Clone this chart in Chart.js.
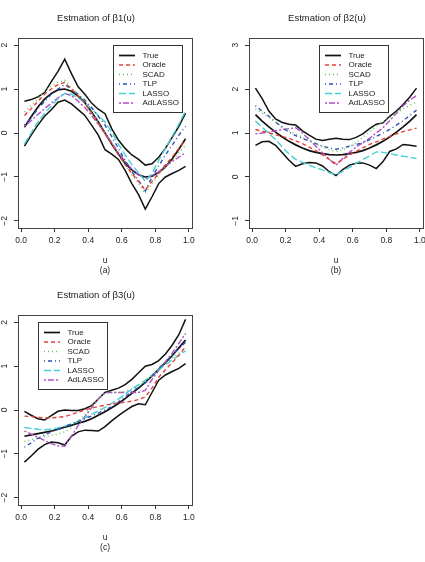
<!DOCTYPE html>
<html>
<head>
<meta charset="utf-8">
<script src="https://cdn.jsdelivr.net/npm/chart.js@4.4.1/dist/chart.umd.min.js"></script>
<style>
  html, body { margin: 0; padding: 0; background: #fff; overflow: hidden; }
  body { width: 425px; height: 562px; position: relative; }
  canvas { position: absolute; }
</style>
</head>
<body>
<canvas id="chartA" width="212" height="285" style="left:0px;top:0px"></canvas>
<canvas id="chartB" width="212" height="285" style="left:231px;top:0px"></canvas>
<canvas id="chartC" width="212" height="285" style="left:0px;top:277px"></canvas>
<script>
// grid of u values the curves are evaluated on
const uGrid = [0.02, 0.06, 0.10, 0.14, 0.18, 0.22, 0.26, 0.30, 0.34, 0.38, 0.42, 0.46, 0.50,
               0.54, 0.58, 0.62, 0.66, 0.70, 0.74, 0.78, 0.82, 0.86, 0.90, 0.94, 0.98];
const xTicks = [0, 0.2, 0.4, 0.6, 0.8, 1.0];
const seriesNames = ["True", "Oracle", "SCAD", "TLP", "LASSO", "AdLASSO"];

// beta1(u)
const b1Ticks = [-2, -1, 0, 1, 2];
const b1True = [0.13, 0.37, 0.59, 0.77, 0.90, 0.98, 1.00, 0.95, 0.84, 0.69, 0.48, 0.25, 0.00,
                -0.25, -0.48, -0.69, -0.84, -0.95, -1.00, -0.98, -0.90, -0.77, -0.59, -0.37, -0.13];
const b1Upper = [0.72, 0.76, 0.82, 0.92, 1.17, 1.40, 1.68, 1.35, 1.05, 0.88, 0.68, 0.54, 0.44,
                 0.10, -0.16, -0.35, -0.50, -0.60, -0.73, -0.70, -0.55, -0.35, -0.10, 0.15, 0.45];
const b1Lower = [-0.30, -0.05, 0.18, 0.38, 0.53, 0.70, 0.75, 0.66, 0.53, 0.40, 0.18, -0.05, -0.38,
                 -0.48, -0.60, -0.85, -1.15, -1.40, -1.73, -1.45, -1.15, -1.00, -0.92, -0.85, -0.76];
const b1Oracle = [0.40, 0.55, 0.72, 0.88, 1.00, 1.10, 1.15, 1.00, 0.85, 0.68, 0.45, 0.22, -0.02,
                  -0.25, -0.50, -0.72, -0.92, -1.10, -1.30, -1.10, -0.92, -0.72, -0.55, -0.35, -0.15];
const b1Scad = [0.48, 0.62, 0.78, 0.95, 1.06, 1.15, 1.20, 1.02, 0.88, 0.70, 0.48, 0.25, 0.02,
                -0.22, -0.48, -0.72, -0.95, -1.15, -1.38, -1.15, -0.95, -0.78, -0.62, -0.45, -0.28];
const b1Tlp = [0.18, 0.35, 0.55, 0.72, 0.88, 1.00, 1.10, 1.00, 0.88, 0.75, 0.58, 0.38, 0.18,
               -0.08, -0.35, -0.62, -0.88, -1.08, -1.32, -1.00, -0.75, -0.50, -0.28, -0.05, 0.15];
const b1Lasso = [-0.25, 0.00, 0.25, 0.45, 0.62, 0.78, 0.90, 0.88, 0.80, 0.68, 0.55, 0.40, 0.25,
                 0.02, -0.25, -0.50, -0.72, -0.90, -1.10, -0.92, -0.62, -0.35, -0.08, 0.20, 0.50];
const b1Adlasso = [0.15, 0.28, 0.42, 0.55, 0.68, 0.80, 0.90, 0.85, 0.72, 0.58, 0.40, 0.20, 0.00,
                   -0.22, -0.45, -0.65, -0.82, -0.95, -1.05, -0.98, -0.88, -0.75, -0.65, -0.55, -0.45];

// beta2(u)
const b2Ticks = [-1, 0, 1, 2, 3];
const b2True = [1.42, 1.27, 1.14, 1.02, 0.91, 0.81, 0.73, 0.66, 0.60, 0.56, 0.53, 0.51, 0.50,
                0.51, 0.53, 0.56, 0.60, 0.66, 0.73, 0.81, 0.91, 1.02, 1.14, 1.27, 1.42];
const b2Upper = [2.02, 1.78, 1.50, 1.32, 1.24, 1.20, 1.18, 1.05, 0.95, 0.86, 0.83, 0.86, 0.88,
                 0.86, 0.85, 0.90, 0.98, 1.10, 1.20, 1.23, 1.38, 1.50, 1.65, 1.82, 2.02];
const b2Lower = [0.72, 0.80, 0.81, 0.72, 0.55, 0.38, 0.24, 0.30, 0.33, 0.32, 0.25, 0.12, 0.03,
                 0.17, 0.27, 0.31, 0.32, 0.27, 0.19, 0.35, 0.58, 0.64, 0.74, 0.72, 0.70];
const b2Oracle = [1.08, 1.04, 1.00, 0.96, 0.92, 0.88, 0.82, 0.76, 0.68, 0.60, 0.50, 0.40, 0.30,
                  0.40, 0.50, 0.58, 0.66, 0.74, 0.80, 0.86, 0.92, 0.98, 1.03, 1.07, 1.11];
const b2Scad = [1.55, 1.45, 1.35, 1.25, 1.15, 1.05, 0.98, 0.90, 0.82, 0.75, 0.68, 0.62, 0.58,
                0.62, 0.68, 0.78, 0.90, 1.02, 1.15, 1.25, 1.35, 1.45, 1.55, 1.63, 1.70];
const b2Tlp = [1.62, 1.50, 1.38, 1.25, 1.12, 1.02, 0.94, 0.88, 0.82, 0.76, 0.70, 0.66, 0.63,
               0.66, 0.70, 0.74, 0.78, 0.85, 0.92, 1.00, 1.08, 1.18, 1.28, 1.40, 1.52];
const b2Lasso = [1.27, 1.13, 0.99, 0.85, 0.68, 0.52, 0.40, 0.33, 0.27, 0.21, 0.16, 0.10, 0.05,
                 0.13, 0.22, 0.31, 0.40, 0.48, 0.57, 0.56, 0.53, 0.50, 0.47, 0.45, 0.42];
const b2Adlasso = [0.98, 1.00, 1.02, 1.05, 1.08, 1.10, 1.12, 1.00, 0.85, 0.70, 0.55, 0.40, 0.27,
                   0.42, 0.56, 0.68, 0.78, 0.88, 1.00, 1.12, 1.28, 1.45, 1.62, 1.75, 1.85];

// beta3(u)
const b3Ticks = [-2, -1, 0, 1, 2];
const b3True = [-0.60, -0.57, -0.54, -0.51, -0.48, -0.44, -0.39, -0.35, -0.30, -0.26, -0.20, -0.12, -0.04,
                0.05, 0.15, 0.26, 0.38, 0.50, 0.63, 0.78, 0.93, 1.08, 1.24, 1.42, 1.60];
const b3Upper = [-0.03, -0.12, -0.20, -0.23, -0.13, -0.03, 0.00, -0.01, -0.01, 0.03, 0.10, 0.25, 0.40,
                 0.45, 0.50, 0.58, 0.70, 0.85, 1.00, 1.04, 1.13, 1.28, 1.48, 1.72, 2.07];
const b3Lower = [-1.19, -1.05, -0.90, -0.79, -0.73, -0.75, -0.80, -0.60, -0.50, -0.46, -0.47, -0.48, -0.38,
                 -0.25, -0.13, -0.02, 0.08, 0.14, 0.12, 0.40, 0.68, 0.80, 0.88, 0.95, 1.06];
const b3Oracle = [-0.14, -0.15, -0.17, -0.18, -0.18, -0.17, -0.15, -0.10, -0.05, 0.00, 0.04, 0.08, 0.11,
                  0.14, 0.16, 0.18, 0.20, 0.24, 0.30, 0.50, 0.75, 0.92, 1.08, 1.25, 1.45];
const b3Scad = [-0.72, -0.68, -0.64, -0.61, -0.58, -0.55, -0.50, -0.40, -0.25, -0.10, 0.08, 0.25, 0.38,
                0.40, 0.40, 0.42, 0.48, 0.56, 0.66, 0.78, 0.92, 1.05, 1.18, 1.30, 1.40];
const b3Tlp = [-0.85, -0.75, -0.65, -0.57, -0.50, -0.44, -0.38, -0.32, -0.26, -0.20, -0.14, -0.07, 0.00,
               0.08, 0.18, 0.30, 0.42, 0.52, 0.62, 0.78, 0.95, 1.10, 1.25, 1.40, 1.55];
const b3Lasso = [-0.40, -0.42, -0.44, -0.45, -0.44, -0.41, -0.37, -0.32, -0.26, -0.18, -0.10, -0.02, 0.06,
                 0.15, 0.25, 0.36, 0.48, 0.58, 0.68, 0.80, 0.92, 1.03, 1.14, 1.25, 1.35];
const b3Adlasso = [-0.48, -0.55, -0.62, -0.70, -0.77, -0.82, -0.83, -0.60, -0.35, -0.15, 0.05, 0.25, 0.40,
                   0.40, 0.40, 0.40, 0.40, 0.40, 0.45, 0.70, 0.90, 1.10, 1.30, 1.52, 1.75];

const FONT = '"Liberation Sans", Arial, Helvetica, sans-serif';
const TEXT = "#222";

// R-like line types
const styles = {
  True:    { color: "#111111", width: 1.7, dash: [] },
  Band:    { color: "#111111", width: 1.5, dash: [] },
  Oracle:  { color: "#e5403a", width: 1.4, dash: [4, 3] },
  SCAD:    { color: "#5fc55b", width: 1.4, dash: [1, 3] },
  TLP:     { color: "#2f4fb5", width: 1.4, dash: [1, 3, 4, 3] },
  LASSO:   { color: "#45d0d6", width: 1.4, dash: [7, 3] },
  AdLASSO: { color: "#b14fc5", width: 1.4, dash: [2, 2, 6, 2] }
};

function lineSet(label, values, style, inLegend) {
  return {
    label: label,
    inLegend: inLegend,
    data: uGrid.map((u, i) => ({ x: u, y: values[i] })),
    borderColor: style.color,
    borderWidth: style.width,
    borderDash: style.dash,
    pointRadius: 0,
    tension: 0,
    fill: false
  };
}

// box round the plot region, like R's box()
const frame = {
  id: "frame",
  afterDraw(chart) {
    const a = chart.chartArea, ctx = chart.ctx;
    ctx.save();
    ctx.strokeStyle = "#444";
    ctx.lineWidth = 1;
    ctx.strokeRect(Math.round(a.left) + 0.5, Math.round(a.top) + 0.5,
                   Math.round(a.right - a.left), Math.round(a.bottom - a.top));
    ctx.restore();
  }
};

// legend drawn inside the plot with a framed white box
const boxLegend = {
  id: "boxLegend",
  afterDatasetsDraw(chart, args, opts) {
    const ctx = chart.ctx, a = chart.chartArea;
    const x0 = Math.round(a.left + opts.x), y0 = Math.round(a.top + opts.y);
    ctx.save();
    ctx.fillStyle = "#fff";
    ctx.fillRect(x0, y0, 69, 67);
    ctx.strokeStyle = "#333";
    ctx.lineWidth = 1;
    ctx.strokeRect(x0 + 0.5, y0 + 0.5, 69, 67);
    ctx.font = "8px " + FONT;
    ctx.textBaseline = "middle";
    seriesNames.forEach((name, i) => {
      const d = chart.data.datasets.find(ds => ds.inLegend && ds.label === name);
      const y = y0 + 10.5 + i * 9.5;
      ctx.strokeStyle = d.borderColor;
      ctx.lineWidth = d.borderWidth;
      ctx.setLineDash(d.borderDash);
      ctx.beginPath();
      ctx.moveTo(x0 + 6, y);
      ctx.lineTo(x0 + 22, y);
      ctx.stroke();
      ctx.setLineDash([]);
      ctx.fillStyle = TEXT;
      ctx.fillText(name, x0 + 29.5, y);
    });
    ctx.restore();
  }
};

function makeChart(id, title, sub, yMin, yMax, yTicks, s, legendAt) {
  const datasets = [
    lineSet("Oracle", s.oracle, styles.Oracle, true),
    lineSet("SCAD", s.scad, styles.SCAD, true),
    lineSet("TLP", s.tlp, styles.TLP, true),
    lineSet("LASSO", s.lasso, styles.LASSO, true),
    lineSet("AdLASSO", s.adlasso, styles.AdLASSO, true),
    lineSet("True", s.truth, styles.True, true),
    lineSet("upper", s.upper, styles.Band, false),
    lineSet("lower", s.lower, styles.Band, false)
  ];
  return new Chart(document.getElementById(id), {
    type: "line",
    data: { datasets: datasets },
    plugins: [frame, boxLegend],
    options: {
      responsive: false,
      animation: false,
      layout: { padding: { top: 0, left: 0, right: 20, bottom: 0 } },
      plugins: {
        legend: { display: false },
        tooltip: { enabled: false },
        title: {
          display: true,
          text: title,
          color: TEXT,
          font: { family: FONT, size: 9.5, weight: "normal" },
          padding: { top: 12.3, bottom: 14.3 }
        },
        boxLegend: legendAt
      },
      scales: {
        x: {
          type: "linear",
          min: -0.0184,
          max: 1.0184,
          afterBuildTicks: sc => { sc.ticks = xTicks.map(v => ({ value: v })); },
          afterFit: sc => { sc.height = 57; },
          grid: { drawOnChartArea: false, drawTicks: true, tickLength: 4, color: "#333" },
          border: { display: false },
          ticks: {
            autoSkip: false, maxRotation: 0, padding: 4,
            color: TEXT, font: { family: FONT, size: 8.5 },
            callback: v => v.toFixed(1)
          },
          title: {
            display: true,
            text: ["u", sub],
            color: TEXT,
            font: { family: FONT, size: 8.5, lineHeight: 1.15 },
            padding: { top: 0, bottom: 9.6 }
          }
        },
        y: {
          type: "linear",
          min: yMin,
          max: yMax,
          afterBuildTicks: sc => { sc.ticks = yTicks.map(v => ({ value: v })); },
          afterFit: sc => { sc.width = 18; },
          grid: { drawOnChartArea: false, drawTicks: true, tickLength: 4, color: "#333" },
          border: { display: false },
          ticks: {
            autoSkip: false, minRotation: 90, maxRotation: 90, crossAlign: "center", padding: 4,
            color: TEXT, font: { family: FONT, size: 8.5 },
            callback: v => (v < 0 ? "\u2212" + Math.abs(v) : String(v))
          }
        }
      }
    }
  });
}

makeChart("chartA", "Estmation of \u03b21(u)", "(a)", -2.16, 2.16, b1Ticks, {
  truth: b1True, upper: b1Upper, lower: b1Lower, oracle: b1Oracle,
  scad: b1Scad, tlp: b1Tlp, lasso: b1Lasso, adlasso: b1Adlasso
}, { x: 95, y: 7 });

makeChart("chartB", "Estmation of \u03b22(u)", "(b)", -1.16, 3.16, b2Ticks, {
  truth: b2True, upper: b2Upper, lower: b2Lower, oracle: b2Oracle,
  scad: b2Scad, tlp: b2Tlp, lasso: b2Lasso, adlasso: b2Adlasso
}, { x: 70, y: 7 });

makeChart("chartC", "Estmation of \u03b23(u)", "(c)", -2.17, 2.17, b3Ticks, {
  truth: b3True, upper: b3Upper, lower: b3Lower, oracle: b3Oracle,
  scad: b3Scad, tlp: b3Tlp, lasso: b3Lasso, adlasso: b3Adlasso
}, { x: 20, y: 7 });
</script>
</body>
</html>
